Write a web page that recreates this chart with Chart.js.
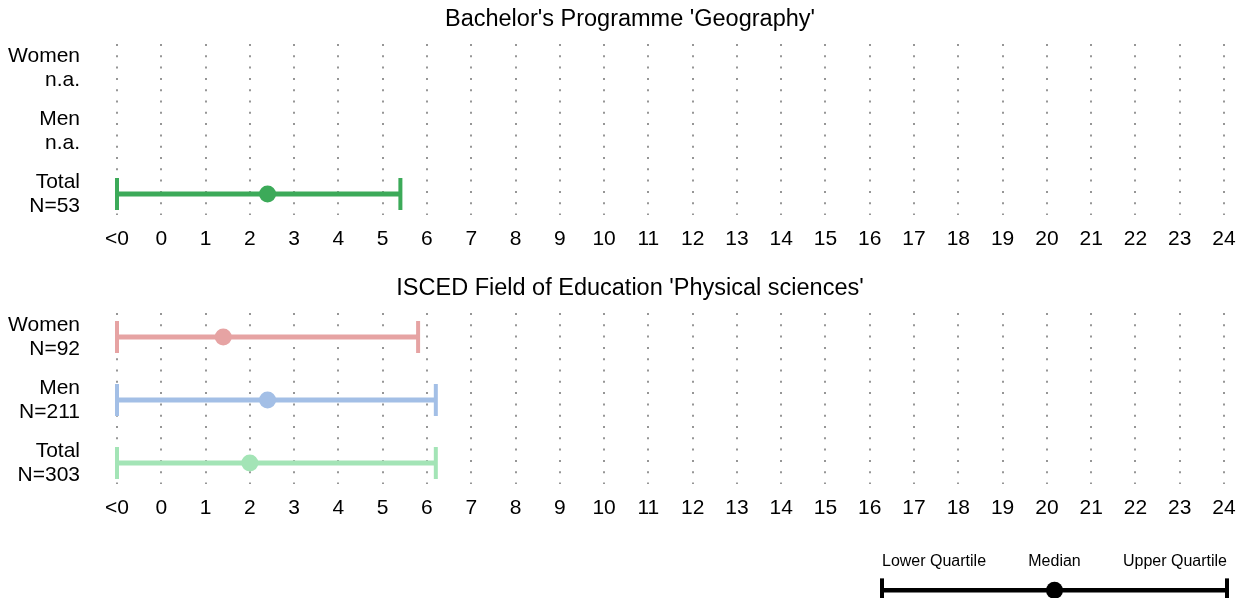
<!DOCTYPE html>
<html><head><meta charset="utf-8">
<script src="https://cdn.jsdelivr.net/npm/chart.js@4.4.0/dist/chart.umd.min.js"></script>
<style>
html,body{margin:0;padding:0;background:#fff;}
#wrap{position:relative;width:1248px;height:598px;overflow:hidden;background:#fff;}
canvas{position:absolute;left:0;}
</style></head><body>
<div id="wrap">
<canvas id="c1" width="1248" height="260" style="top:0px"></canvas>
<canvas id="c2" width="1248" height="260" style="top:269px"></canvas>
<canvas id="c3" width="1248" height="120" style="top:529px"></canvas>
</div>
<script>
// ---- data ----
const rowNames = ["Women", "Men", "Total"];

const geoTitle = "Bachelor's Programme 'Geography'";
const geoCounts = ["n.a.", "n.a.", "N=53"];
const geoLower = [null, null, -1];
const geoMedian = [null, null, 2.4];
const geoUpper = [null, null, 5.4];
const geoColors = ["#e6a3a3", "#a3bfe6", "#3caa59"];

const physTitle = "ISCED Field of Education 'Physical sciences'";
const physCounts = ["N=92", "N=211", "N=303"];
const physLower = [-1, -1, -1];
const physMedian = [1.4, 2.4, 2.0];
const physUpper = [5.8, 6.2, 6.2];
const physColors = ["#e6a3a3", "#a3bfe6", "#a3e4b6"];

const tickValues = [-1, 0, 1, 2, 3, 4, 5, 6, 7, 8, 9, 10, 11, 12, 13, 14, 15, 16, 17, 18, 19, 20, 21, 22, 23, 24];
const tickLabels = ["<0", "0", "1", "2", "3", "4", "5", "6", "7", "8", "9", "10", "11", "12", "13", "14", "15", "16", "17", "18", "19", "20", "21", "22", "23", "24"];

const legendLabels = ["Lower Quartile", "Median", "Upper Quartile"];
const legendValues = [0, 1, 2];

// ---- styling ----
const FAMILY = "'Liberation Sans', Arial, Helvetica, sans-serif";
const mainFont = {family: FAMILY, size: 21, lineHeight: 24 / 21, weight: 'normal'};
const titleFont = {family: FAMILY, size: 23.5, lineHeight: 1.2, weight: 'normal'};

// let the row-label axis use the space left of it (so labels are not clipped)
const widenLabelAxis = {
  id: 'widenLabelAxis',
  afterLayout(chart) {
    const y = chart.scales.y;
    y.left = 0;
    y.width = y.right;
  }
};

function makePanel(id, title, counts, lower, median, upper, colors) {
  const n = rowNames.length;
  const datasets = [];
  for (let i = 0; i < n; i++) {
    if (lower[i] === null) continue;
    const y = n - 1 - i;
    const c = colors[i];
    datasets.push({
      data: [{x: lower[i], y: y}, {x: upper[i], y: y}],
      showLine: true, borderColor: c, borderWidth: 5,
      pointStyle: 'line', pointRotation: 90, pointRadius: 16,
      pointBorderWidth: 4, pointBorderColor: c, pointBackgroundColor: c,
      pointHoverRadius: 16, clip: false, order: 2
    });
    datasets.push({
      data: [{x: median[i], y: y}],
      showLine: false, pointStyle: 'circle', pointRadius: 8.5,
      pointBorderWidth: 0, pointBackgroundColor: c, pointBorderColor: c,
      clip: false, order: 1
    });
  }
  return new Chart(document.getElementById(id), {
    type: 'scatter',
    data: {datasets},
    plugins: [widenLabelAxis],
    options: {
      responsive: false, animation: false, events: [],
      layout: {padding: {left: 36, right: 24, top: 0, bottom: 9}},
      plugins: {
        legend: {display: false}, tooltip: {enabled: false},
        title: {display: true, text: title, color: '#000', font: titleFont,
                padding: {top: 5.5, bottom: 10.3}}
      },
      scales: {
        x: {
          type: 'linear', min: tickValues[0], max: tickValues[tickValues.length - 1],
          afterBuildTicks: s => { s.ticks = tickValues.map(v => ({value: v})); },
          ticks: {
            callback: (v, i) => tickLabels[i],
            autoSkip: false, maxRotation: 0, minRotation: 0, padding: 12,
            color: '#000', font: mainFont
          },
          grid: {color: '#969696', lineWidth: 2, drawTicks: false},
          border: {display: false, dash: [2, 9.3]},
          afterFit: s => { s.height = 36; s.paddingLeft = 0; s.paddingRight = 0; }
        },
        y: {
          type: 'linear', min: -0.333, max: 2.381,
          afterBuildTicks: s => { s.ticks = [0, 1, 2].map(v => ({value: v})); },
          ticks: {
            callback: (v) => [rowNames[n - 1 - v], counts[n - 1 - v]],
            padding: 37, color: '#000', font: mainFont
          },
          grid: {display: false, drawTicks: false},
          border: {display: false},
          afterFit: s => { s.width = 81; s.paddingTop = 0; s.paddingBottom = 0; }
        }
      }
    }
  });
}

makePanel('c1', geoTitle, geoCounts, geoLower, geoMedian, geoUpper, geoColors);
makePanel('c2', physTitle, physCounts, physLower, physMedian, physUpper, physColors);

// ---- legend drawn as a small chart ----
new Chart(document.getElementById('c3'), {
  type: 'scatter',
  data: {
    datasets: [
      {
        data: [{x: legendValues[0], y: 0}, {x: legendValues[2], y: 0}],
        showLine: true, borderColor: '#000', borderWidth: 4.5,
        pointStyle: 'line', pointRotation: 90, pointRadius: 12,
        pointBorderWidth: 4, pointBorderColor: '#000', pointBackgroundColor: '#000',
        clip: false, order: 2
      },
      {
        data: [{x: legendValues[1], y: 0}],
        showLine: false, pointStyle: 'circle', pointRadius: 8.5,
        pointBorderWidth: 0, pointBackgroundColor: '#000', clip: false, order: 1
      }
    ]
  },
  options: {
    responsive: false, animation: false, events: [],
    layout: {padding: {left: 882, right: 21, top: 0, bottom: 0}},
    plugins: {legend: {display: false}, tooltip: {enabled: false}, title: {display: false}},
    scales: {
      x: {
        type: 'linear', position: 'top', min: legendValues[0], max: legendValues[2],
        afterBuildTicks: s => { s.ticks = legendValues.map(v => ({value: v})); },
        ticks: {
          callback: (v, i) => legendLabels[i], align: 'inner', autoSkip: false,
          maxRotation: 0, minRotation: 0, padding: 10.4, color: '#000',
          font: {family: FAMILY, size: 16, lineHeight: 1.2}
        },
        grid: {display: false, drawTicks: false},
        border: {display: false},
        afterFit: s => { s.height = 53; s.paddingLeft = 0; s.paddingRight = 0; }
      },
      y: {type: 'linear', display: false, min: -1, max: 11 / 56}
    }
  }
});
</script>
</body></html>
